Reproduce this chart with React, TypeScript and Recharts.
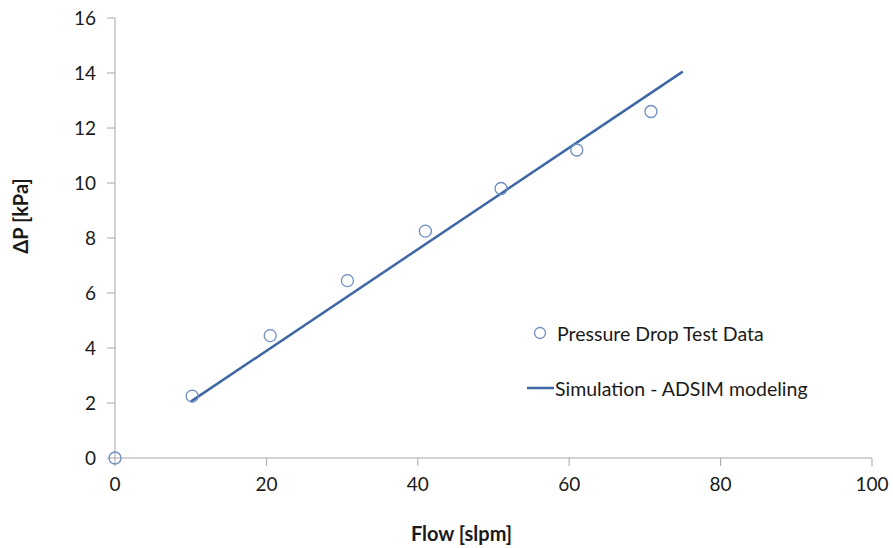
import { ScatterChart, Scatter, XAxis, YAxis, Label } from 'recharts';

// flow [slpm] vs pressure drop [kPa]
const testFlow = [0, 10.2, 20.5, 30.7, 41, 51, 61, 70.8];
const testDp = [0, 2.25, 4.45, 6.45, 8.25, 9.8, 11.2, 12.6];

const simFlow = [10, 75];
const simDp = [2.05, 14.05];

const xTicks = [0, 20, 40, 60, 80, 100];
const yTicks = [0, 2, 4, 6, 8, 10, 12, 14, 16];

const testData = testFlow.map((x, i) => ({ x, y: testDp[i] }));
const simData = simFlow.map((x, i) => ({ x, y: simDp[i] }));

const FONT = 'Lato, "Open Sans", sans-serif';
const AXIS = '#a6a6a6';
const MARKER = '#6e8cc0';
const LINE = '#3e67a6';
const TITLE = { fontSize: 20, fontWeight: 700, fill: '#1a1a1a', fontFamily: FONT };

function ChartLegend() {
  return (
    <div style={{ position: 'absolute', left: 527, top: 322, fontFamily: FONT, fontSize: 19.5, color: '#1a1a1a' }}>
      <div style={{ display: 'flex', alignItems: 'center', height: 22 }}>
        <svg width={30} height={22}>
          <circle cx={13} cy={11} r={5.5} fill='none' stroke={MARKER} strokeWidth={1.3} />
        </svg>
        <span>Pressure Drop Test Data</span>
      </div>
      <div style={{ display: 'flex', alignItems: 'center', height: 22, marginTop: 33 }}>
        <svg width={28} height={22}>
          <line x1={0} y1={11} x2={27} y2={11} stroke={LINE} strokeWidth={2.5} />
        </svg>
        <span>Simulation - ADSIM modeling</span>
      </div>
    </div>
  );
}

export default function App() {
  return (
    <div style={{ position: 'absolute', left: 0, top: 0, width: 893, height: 548, background: '#fff' }}>
      <ScatterChart width={893} height={548} margin={{ top: 18, right: 21, left: 70, bottom: 30 }}>
        <XAxis
          type='number'
          dataKey='x'
          domain={[0, 100]}
          ticks={xTicks}
          height={60}
          tickSize={8}
          tickMargin={12}
          stroke={AXIS}
          tick={{ fontSize: 19, fill: '#1a1a1a', fontFamily: FONT }}
        >
          <Label
            content={({ viewBox }: any) => (
              <text x={viewBox.x + viewBox.width / 2 - 32} y={541} textAnchor='middle' style={TITLE}>
                Flow [slpm]
              </text>
            )}
          />
        </XAxis>
        <YAxis
          type='number'
          dataKey='y'
          domain={[0, 16]}
          ticks={yTicks}
          width={45}
          tickSize={8}
          tickMargin={11}
          stroke={AXIS}
          tick={{ fontSize: 19, fill: '#1a1a1a', fontFamily: FONT }}
        >
          <Label
            content={({ viewBox }: any) => {
              const cx = 28;
              const cy = viewBox.y + viewBox.height / 2 - 22;
              return (
                <text x={cx} y={cy} textAnchor='middle' transform={`rotate(-90 ${cx} ${cy})`} style={TITLE}>
                  ΔP [kPa]
                </text>
              );
            }}
          />
        </YAxis>
        <Scatter
          data={simData}
          line={{ stroke: LINE, strokeWidth: 2.5 }}
          shape={() => <g />}
          isAnimationActive={false}
        />
        <Scatter
          data={testData}
          shape={(p: any) => <circle cx={p.cx} cy={p.cy} r={6} fill='none' stroke={MARKER} strokeWidth={1.3} />}
          isAnimationActive={false}
        />
      </ScatterChart>
      <ChartLegend />
    </div>
  );
}
